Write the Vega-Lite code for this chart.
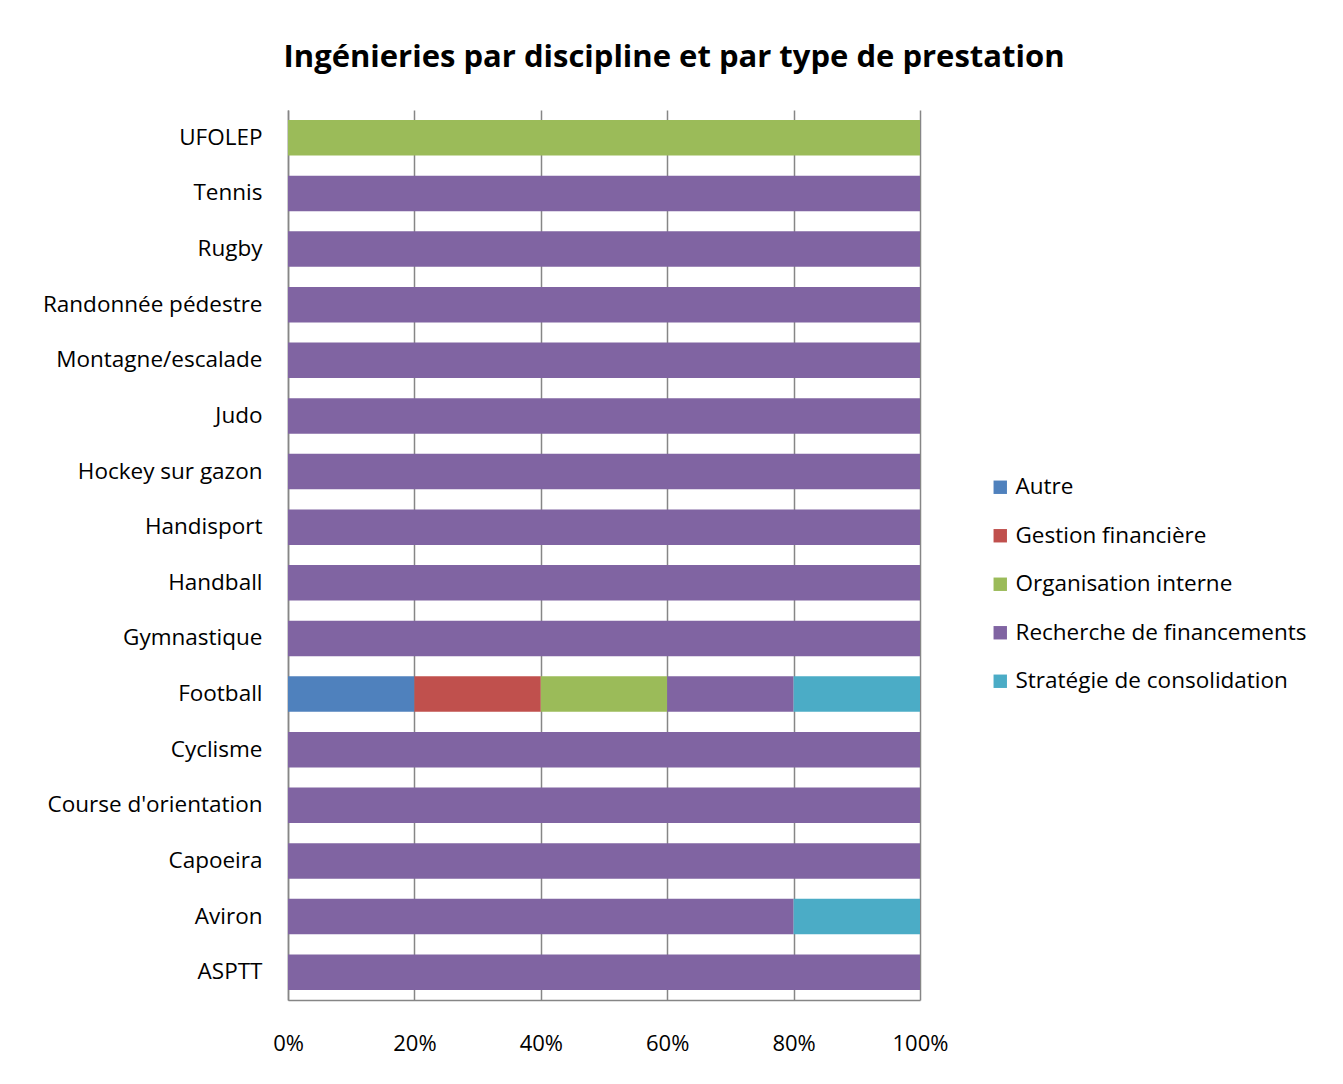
{
  "$schema": "https://vega.github.io/schema/vega-lite/v6.json",
  "width": 632,
  "height": 890,
  "autosize": "none",
  "padding": {"left": 288, "top": 110, "right": 423, "bottom": 84},
  "background": "white",
  "title": {
    "text": "Ingénieries par discipline et par type de prestation",
    "font": "Open Sans",
    "fontSize": 31,
    "fontWeight": "bold",
    "color": "#000000",
    "anchor": "middle",
    "frame": "group",
    "dx": 70,
    "offset": 36
  },
  "data": {
    "values": [
      {"discipline": "UFOLEP", "type": "Organisation interne", "n": 1},
      {"discipline": "Tennis", "type": "Recherche de financements", "n": 1},
      {"discipline": "Rugby", "type": "Recherche de financements", "n": 1},
      {"discipline": "Randonnée pédestre", "type": "Recherche de financements", "n": 1},
      {"discipline": "Montagne/escalade", "type": "Recherche de financements", "n": 1},
      {"discipline": "Judo", "type": "Recherche de financements", "n": 1},
      {"discipline": "Hockey sur gazon", "type": "Recherche de financements", "n": 1},
      {"discipline": "Handisport", "type": "Recherche de financements", "n": 1},
      {"discipline": "Handball", "type": "Recherche de financements", "n": 1},
      {"discipline": "Gymnastique", "type": "Recherche de financements", "n": 1},
      {"discipline": "Football", "type": "Autre", "n": 1},
      {"discipline": "Football", "type": "Gestion financière", "n": 1},
      {"discipline": "Football", "type": "Organisation interne", "n": 1},
      {"discipline": "Football", "type": "Recherche de financements", "n": 1},
      {"discipline": "Football", "type": "Stratégie de consolidation", "n": 1},
      {"discipline": "Cyclisme", "type": "Recherche de financements", "n": 1},
      {"discipline": "Course d'orientation", "type": "Recherche de financements", "n": 1},
      {"discipline": "Capoeira", "type": "Recherche de financements", "n": 1},
      {"discipline": "Aviron", "type": "Recherche de financements", "n": 4},
      {"discipline": "Aviron", "type": "Stratégie de consolidation", "n": 1},
      {"discipline": "ASPTT", "type": "Recherche de financements", "n": 1}
    ]
  },
  "mark": {"type": "bar"},
  "encoding": {
    "y": {
      "field": "discipline",
      "type": "nominal",
      "sort": ["UFOLEP", "Tennis", "Rugby", "Randonnée pédestre", "Montagne/escalade", "Judo", "Hockey sur gazon", "Handisport", "Handball", "Gymnastique", "Football", "Cyclisme", "Course d'orientation", "Capoeira", "Aviron", "ASPTT"],
      "scale": {"paddingInner": 0.36, "paddingOuter": 0.18},
      "axis": {
        "title": null,
        "domainColor": "#868686",
        "domainWidth": 1.5,
        "ticks": false,
        "labelPadding": 26,
        "labelLimit": 0,
        "labelFont": "Open Sans",
        "labelFontSize": 22.5,
        "labelColor": "#000000"
      }
    },
    "x": {
      "field": "n",
      "type": "quantitative",
      "stack": "normalize",
      "scale": {"domain": [0, 1], "nice": false},
      "axis": {
        "title": null,
        "values": [0, 0.2, 0.4, 0.6, 0.8, 1],
        "format": "%",
        "grid": true,
        "gridColor": "#868686",
        "gridWidth": 1.5,
        "gridOpacity": 1,
        "domainColor": "#868686",
        "domainWidth": 1.5,
        "ticks": false,
        "labelFlush": false,
        "labelPadding": 33,
        "labelFont": "Open Sans",
        "labelFontSize": 22,
        "labelColor": "#000000"
      }
    },
    "color": {
      "field": "type",
      "type": "nominal",
      "scale": {
        "domain": ["Autre", "Gestion financière", "Organisation interne", "Recherche de financements", "Stratégie de consolidation"],
        "range": ["#4F81BD", "#C0504D", "#9BBB59", "#8064A2", "#4BACC6"]
      },
      "legend": {
        "title": null,
        "orient": "none",
        "legendX": 701,
        "legendY": 366,
        "symbolType": "square",
        "symbolSize": 180,
        "symbolStrokeWidth": 0,
        "labelFont": "Open Sans",
        "labelFontSize": 22.5,
        "labelLimit": 0,
        "labelColor": "#000000",
        "rowPadding": 25.5,
        "labelOffset": 4
      }
    },
    "order": {"field": "type", "sort": "ascending"}
  },
  "config": {
    "view": {"stroke": null}
  }
}
